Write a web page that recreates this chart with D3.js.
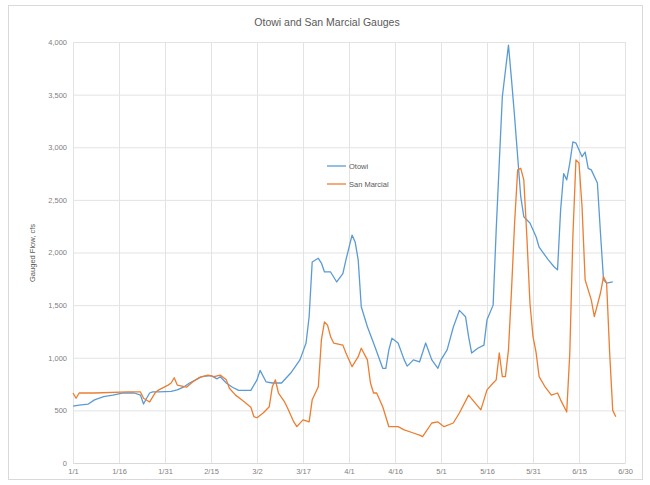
<!DOCTYPE html>
<html><head><meta charset="utf-8">
<script src="https://cdn.jsdelivr.net/npm/d3@7"></script>
<style>body{margin:0;background:#fff;}svg{display:block;font-family:"Liberation Sans",Arial,sans-serif;}</style>
</head><body><svg id="c" width="650" height="485"></svg>
<script>
const title = "Otowi and San Marcial Gauges";
const yTitle = "Gauged Flow, cfs";
const seriesNames = ["Otowi", "San Marcial"];
const xTickLabels = ["1/1","1/16","1/31","2/15","3/2","3/17","4/1","4/16","5/1","5/16","5/31","6/15","6/30"];
const yTicks = [0,500,1000,1500,2000,2500,3000,3500,4000];

const otowiDates = ["1/1","1/3","1/6","1/8","1/11","1/14","1/17","1/21","1/23","1/24","1/25","1/26","1/27","1/29","2/2","2/4","2/6","2/8","2/10","2/12","2/15","2/17","2/18","2/20","2/22","2/24","2/28","3/2","3/3","3/5","3/7","3/10","3/13","3/16","3/18","3/19","3/20","3/22","3/23","3/24","3/26","3/28","3/30","3/31","4/2","4/3","4/4","4/5","4/7","4/9","4/12","4/13","4/14","4/15","4/17","4/19","4/20","4/22","4/24","4/26","4/28","4/30","5/1","5/3","5/5","5/7","5/9","5/10","5/11","5/13","5/15","5/16","5/18","5/19","5/20","5/21","5/23","5/24","5/25","5/26","5/27","5/28","5/30","6/1","6/2","6/5","6/7","6/8","6/9","6/10","6/11","6/12","6/13","6/14","6/16","6/17","6/18","6/19","6/21","6/22","6/23","6/24","6/26"];
const otowiFlow = [540,550,560,600,630,645,665,665,645,560,615,665,675,675,680,695,720,760,790,820,830,800,820,760,720,690,690,790,880,770,760,760,855,980,1140,1390,1910,1945,1900,1815,1815,1720,1800,1930,2165,2100,1930,1485,1295,1140,900,900,1075,1185,1140,980,920,980,960,1140,980,900,980,1075,1290,1450,1390,1200,1045,1090,1120,1360,1500,2215,2850,3480,3970,3640,3290,2910,2530,2340,2280,2150,2050,1930,1860,1835,2400,2750,2690,2850,3050,3040,2910,2955,2800,2785,2660,2185,1740,1710,1720];

const marcialDates = ["1/1","1/2","1/3","1/8","1/19","1/23","1/24","1/26","1/28","1/29","2/1","2/2","2/3","2/4","2/7","2/9","2/11","2/14","2/16","2/18","2/20","2/21","2/23","2/25","2/28","3/1","3/2","3/4","3/6","3/7","3/8","3/9","3/11","3/12","3/14","3/15","3/17","3/19","3/20","3/22","3/23","3/24","3/25","3/26","3/27","3/30","3/31","4/2","4/4","4/5","4/7","4/8","4/9","4/10","4/12","4/14","4/17","4/19","4/22","4/24","4/25","4/28","4/30","5/2","5/5","5/7","5/10","5/14","5/16","5/18","5/19","5/20","5/21","5/22","5/23","5/24","5/25","5/26","5/27","5/28","5/29","5/30","5/31","6/1","6/2","6/4","6/6","6/8","6/9","6/11","6/12","6/13","6/14","6/15","6/16","6/17","6/19","6/20","6/22","6/23","6/24","6/25","6/26","6/27"];
const marcialFlow = [665,615,665,665,675,675,615,580,675,695,740,760,810,740,720,770,810,835,820,835,790,710,645,600,530,440,430,475,535,725,790,665,580,520,390,345,410,390,600,725,1170,1340,1310,1200,1140,1120,1045,915,1010,1090,980,760,665,665,535,345,345,315,285,265,250,380,390,345,380,475,645,505,695,760,790,1045,820,820,1075,1645,2280,2785,2800,2690,2150,1520,1200,1050,820,720,645,665,600,485,1045,2150,2880,2850,2430,1740,1550,1390,1615,1770,1710,1045,500,440];

const colors = ["#5B9BD5", "#ED7D31"];
const parse = s => d3.timeParse("%m/%d/%Y")(s + "/2015");

const svg = d3.select("#c");
const W = 650, H = 485;
const m = {l:73, r:25, t:42, b:22};
const iw = W - m.l - m.r, ih = H - m.t - m.b;

svg.append("rect").attr("x",8.5).attr("y",5.5).attr("width",634).attr("height",474)
  .attr("fill","#fff").attr("stroke","#d9d9d9");

const x = d3.scaleTime().domain([parse("1/1"), parse("6/30")]).range([m.l, m.l+iw]);
const y = d3.scaleLinear().domain([0,4000]).range([m.t+ih, m.t]);

const g = svg.append("g");
g.selectAll(".hg").data(yTicks).join("line")
  .attr("x1",m.l).attr("x2",m.l+iw).attr("y1",d=>y(d)+0.5).attr("y2",d=>y(d)+0.5)
  .attr("stroke","#e3e3e3").attr("stroke-width",1);
g.selectAll(".vg").data(xTickLabels).join("line")
  .attr("x1",d=>Math.round(x(parse(d)))+0.5).attr("x2",d=>Math.round(x(parse(d)))+0.5)
  .attr("y1",m.t).attr("y2",m.t+ih).attr("stroke","#e3e3e3");

const yAxis = d3.axisLeft(y).tickValues(yTicks).tickFormat(d3.format(",")).tickSize(0).tickPadding(6);
const ya = svg.append("g").attr("transform",`translate(${m.l},0)`).call(yAxis);
ya.select(".domain").remove();
ya.selectAll("text").attr("fill","#7f7f7f").attr("font-size",7.5);

const xAxis = d3.axisBottom(x).tickValues(xTickLabels.map(parse)).tickFormat((d,i)=>xTickLabels[i]).tickSize(0).tickPadding(6);
const xa = svg.append("g").attr("transform",`translate(0,${m.t+ih})`).call(xAxis);
xa.select(".domain").attr("stroke","#d9d9d9");
xa.selectAll("text").attr("fill","#7f7f7f").attr("font-size",7.5);

const line = d3.line().x(d=>x(d[0])).y(d=>y(d[1])).curve(d3.curveLinear);
const sData = [
  d3.zip(otowiDates.map(parse), otowiFlow),
  d3.zip(marcialDates.map(parse), marcialFlow)
];
svg.selectAll(".ln").data(sData).join("path")
  .attr("d",line).attr("fill","none").attr("stroke",(d,i)=>colors[i])
  .attr("stroke-width",1.3).attr("stroke-linejoin","round");

svg.append("text").attr("x",327).attr("y",26).attr("text-anchor","middle")
  .attr("font-size",10.5).attr("fill","#595959").text(title);

svg.append("text").attr("transform","translate(35,253) rotate(-90)").attr("text-anchor","middle")
  .attr("font-size",7.5).attr("fill","#595959").text(yTitle);

const lg = svg.append("g").attr("transform","translate(327,166)");
seriesNames.forEach((n,i)=>{
  lg.append("line").attr("x1",0).attr("x2",19).attr("y1",i*18).attr("y2",i*18)
    .attr("stroke",colors[i]).attr("stroke-width",1.3);
  lg.append("text").attr("x",22).attr("y",i*18+3).attr("font-size",7.5).attr("fill","#595959").text(n);
});
</script></body></html>
